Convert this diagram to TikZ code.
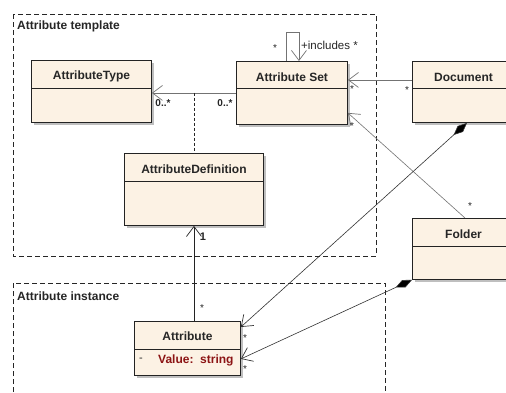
\documentclass[tikz,border=0pt]{standalone}
\usepackage{fontspec}
\setmainfont{Liberation Sans}
\usepackage{tikz}
\usetikzlibrary{arrows.meta,shadows,positioning}
\usepackage{xcolor}
\definecolor{umlfill}{RGB}{252,242,228}
\definecolor{umlline}{RGB}{35,35,35}
\definecolor{umlgray}{RGB}{115,115,115}
\definecolor{umlred}{RGB}{140,20,20}
\tikzstyle{umlclass} = [rectangle, anchor=north west, inner sep=0pt, draw=umlline, fill=umlfill, line width=0.9pt, drop shadow={shadow xshift=3pt, shadow yshift=-3pt, fill=black!25, opacity=1}]
\tikzstyle{classtitle} = [inner sep=0pt, font=\bfseries\fontsize{12}{14}\selectfont, text=black!85]
\tikzstyle{divider} = [draw=umlline, line width=0.9pt]
\tikzstyle{package} = [draw=black!85, line width=0.8pt, dash pattern=on 5pt off 3pt]
\tikzstyle{pkglabel} = [anchor=west, inner sep=0pt, font=\bfseries\fontsize{12}{14}\selectfont, text=black!85]
\tikzstyle{assoc} = [draw=umlgray, line width=0.8pt, -{Straight Barb[length=10pt,width=15pt,line width=0.7pt]}]
\tikzstyle{compo} = [draw=black!80, line width=0.6pt, {Diamond[length=18pt,width=8pt,fill=black]}-{Straight Barb[length=10pt,width=15pt,line width=0.7pt]}]
\tikzstyle{mult} = [inner sep=0pt, font=\bfseries\fontsize{10}{10}\selectfont, text=black!85]
\tikzstyle{star} = [inner sep=0pt, font=\fontsize{10}{10}\selectfont, text=black!85]

\begin{document}
\begin{tikzpicture}[x=1pt, y=-1pt]
\path[use as bounding box, clip] (0,0) rectangle (506,392);
\fill[white] (0,0) rectangle (506,392);

% Packages
\draw[package] (13,14) rectangle (376,256);
\node (templatelabel) [pkglabel] at (17,26) {Attribute template};
\draw[package] (13,400) -- (13,283) -- (385,283) -- (385,400);
\node (instancelabel) [pkglabel] at (17,296) {Attribute instance};

% Classes
\node (type) [umlclass, minimum width=120pt, minimum height=62pt] at (31,60) {};
\node (typetitle) [classtitle] at ([yshift=-16pt]type.north) {AttributeType};
\draw[divider] ([yshift=-28pt]type.north west) -- ([yshift=-28pt]type.north east);

\node (set) [umlclass, minimum width=111pt, minimum height=63pt] at (236,61) {};
\node (settitle) [classtitle] at ([yshift=-16pt]set.north) {Attribute Set};
\draw[divider] ([yshift=-27pt]set.north west) -- ([yshift=-27pt]set.north east);

\node (doc) [umlclass, minimum width=120pt, minimum height=61pt] at (412,61) {};
\node (doctitle) [classtitle, anchor=west] at ([xshift=22pt,yshift=-16pt]doc.north west) {Document};
\draw[divider] ([yshift=-27pt]doc.north west) -- ([yshift=-27pt]doc.north east);

\node (def) [umlclass, minimum width=139pt, minimum height=72pt] at (124,153) {};
\node (deftitle) [classtitle] at ([yshift=-16pt]def.north) {AttributeDefinition};
\draw[divider] ([yshift=-28pt]def.north west) -- ([yshift=-28pt]def.north east);

\node (fold) [umlclass, minimum width=120pt, minimum height=61pt] at (412,218) {};
\node (foldtitle) [classtitle, anchor=west] at ([xshift=33pt,yshift=-16pt]fold.north west) {Folder};
\draw[divider] ([yshift=-28pt]fold.north west) -- ([yshift=-28pt]fold.north east);

\node (attr) [umlclass, minimum width=106pt, minimum height=54pt] at (134,321) {};
\node (attrtitle) [classtitle] at ([yshift=-15pt]attr.north) {Attribute};
\draw[divider] ([yshift=-28pt]attr.north west) -- ([yshift=-28pt]attr.north east);
\node (attrvis) [classtitle, font=\fontsize{11}{12}\selectfont, anchor=west] at ([xshift=5pt,yshift=-39pt]attr.north west) {-};
\node (attrvalue) [classtitle, text=umlred, anchor=west] at ([xshift=24pt,yshift=-39pt]attr.north west) {Value:\ \ string};

% Connectors
\draw[assoc] (set.west) -- (set.west -| type.east);
\coordinate (assocmid) at (set.west -| def.north);
\draw[draw=black!85, line width=0.7pt, dash pattern=on 3pt off 2pt] (assocmid) -- (def.north);
\draw[assoc] ([xshift=-6pt]set.north) -- ++(0,-29) -| ([xshift=7pt]set.north);
\draw[assoc] ([yshift=12pt]doc.west) -- ([yshift=12pt]doc.west -| set.east);
\draw[assoc, line width=0.6pt] ([xshift=53pt]fold.north west) -- ([yshift=12pt]set.south east);
\draw[compo] ([xshift=55pt]doc.south west) -- ([yshift=-6pt]attr.north east);
\draw[compo] (fold.south west) -- ([yshift=17pt]attr.south east);
\draw[assoc, draw=umlline, line width=0.6pt] (attr.north -| def.south) -- (def.south);

% Multiplicities
\node (typemult) [mult] at (163,103) {0..*};
\node (setmult) [mult] at (225,103) {0..*};
\node (loopstar) [star] at (275,48) {*};
\node (loopname) [star, font=\fontsize{11.5}{12}\selectfont, anchor=west] at (301,45) {+includes *};
\node (setdocstar) [star] at (352,89) {*};
\node (docstar) [star] at (407,90) {*};
\node (setfoldstar) [star] at (352,126) {*};
\node (foldstar) [star] at (470,206) {*};
\node (defmult) [mult, font=\bfseries\fontsize{11}{11}\selectfont] at (203,237) {1};
\node (attrstar) [star] at (202,308) {*};
\node (attrdocstar) [star] at (245,338) {*};
\node (attrfoldstar) [star] at (245,369) {*};
\end{tikzpicture}
\end{document}
